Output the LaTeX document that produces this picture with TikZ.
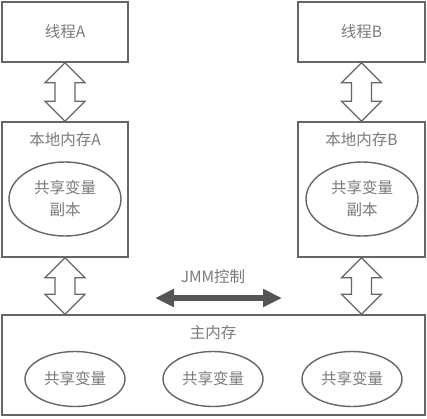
\documentclass[tikz,border=0pt]{standalone}
\usepackage{fontspec}
\usepackage{tikz}
\usetikzlibrary{arrows.meta,calc,positioning,shapes.geometric}
\newfontfamily\cjk{Noto Sans CJK SC}

\definecolor{linegray}{HTML}{666666}
\definecolor{textgray}{HTML}{7A7A7A}
\definecolor{jmmgray}{HTML}{555555}

% fat hollow double arrow from point #1 (lower y) to point #2
\newcommand{\fatarrow}[2]{%
	\draw[fatline] (#1) -- ++(-20,20) -- ++(10,0)
		-- ($(#2)+(-10,-20)$) -- ($(#2)+(-20,-20)$) -- (#2)
		-- ($(#2)+(20,-20)$) -- ($(#2)+(10,-20)$)
		-- ($(#1)+(10,20)$) -- ($(#1)+(20,20)$) -- cycle;
}

\begin{document}
\begin{tikzpicture}[
			x=1pt,y=-1pt,
			every node/.style={font=\cjk\fontsize{15.5}{22}\selectfont,text=textgray},
			box/.style={draw=linegray,line width=1.6pt,rectangle,inner sep=0pt},
			oval/.style={draw=linegray,line width=1.4pt,ellipse,inner sep=0pt,align=center},
			fatline/.style={draw=linegray,line width=1.2pt,fill=white,line join=miter}
			]

			\useasboundingbox (0,0) rectangle (427,418);

			% threads
			\node[box,minimum width=126,minimum height=60] (thrA) at (65,32) {线程A};
			\node[box,minimum width=127,minimum height=60] (thrB) at (361.5,32) {线程B};

			% local memories
			\node[box,minimum width=126,minimum height=135] (locA) at (65,189.5) {};
			\node[box,minimum width=127,minimum height=135] (locB) at (361.5,189.5) {};
			\node (locAt) at (65,140) {本地内存A};
			\node (locBt) at (361.5,140) {本地内存B};
			\node[oval,minimum width=112,minimum height=74] (copA) at (65,199) {共享变量\\副本};
			\node[oval,minimum width=112,minimum height=74] (copB) at (362,199) {共享变量\\副本};

			% main memory
			\node[box,minimum width=423,minimum height=100] (mainM) at (213.5,365) {};
			\node (mainMt) at (213,333) {主内存};
			\node[oval,minimum width=100,minimum height=55] (varA) at (75,379) {共享变量};
			\node[oval,minimum width=100,minimum height=55] (varB) at (213,379) {共享变量};
			\node[oval,minimum width=100,minimum height=55] (varC) at (352,379) {共享变量};
			\coordinate (mainAn) at (locA.south |- mainM.north);
			\coordinate (mainBn) at (locB.south |- mainM.north);

			% JMM control
			\node (jmm) at (213,277) {JMM控制};
			\coordinate (jmmL) at (155,298);
			\coordinate (jmmR) at (282,298);
			\draw[jmmgray,line width=6pt,{Triangle[length=19pt,width=17pt]}-{Triangle[length=19pt,width=17pt]}] (jmmL) -- (jmmR);

			% hollow arrows
			\fatarrow{thrA.south}{locA.north}
			\fatarrow{thrB.south}{locB.north}
			\fatarrow{locA.south}{mainAn}
			\fatarrow{locB.south}{mainBn}

		\end{tikzpicture}
\end{document}
